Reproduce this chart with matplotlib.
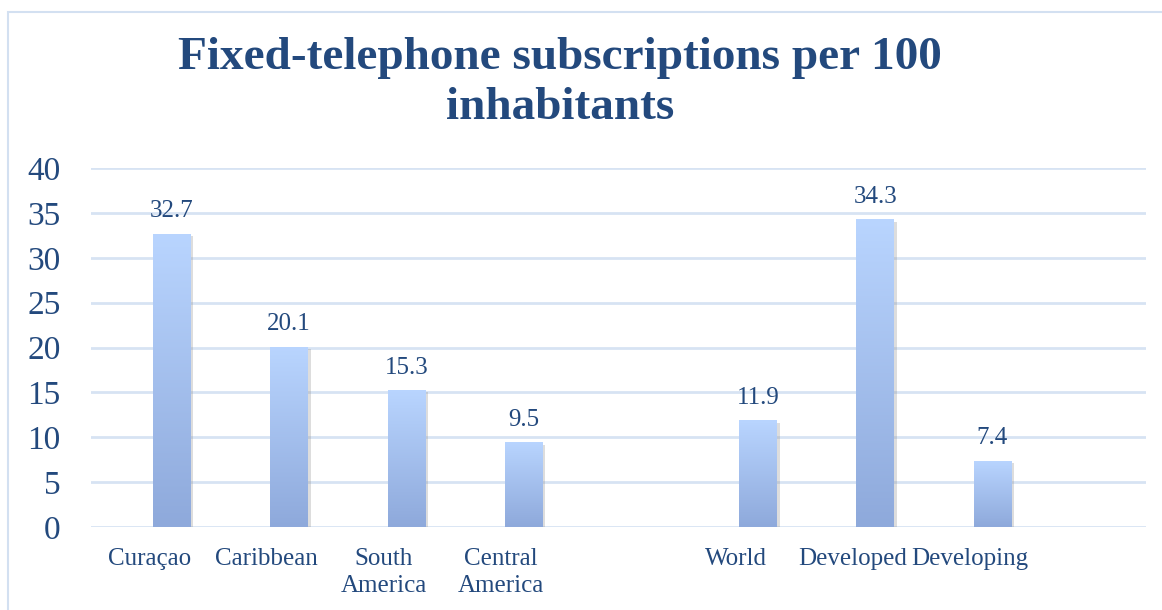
import numpy as np
import matplotlib.pyplot as plt
from matplotlib.colors import LinearSegmentedColormap
from matplotlib.patches import Rectangle
import matplotlib.patheffects as pe

# data (slots with empty names are gaps in the original chart)
categories = ['Curaçao', 'Caribbean', 'South\nAmerica', 'Central\nAmerica', '',
              'World', 'Developed', 'Developing', '']
values = [32.7, 20.1, 15.3, 9.5, None, 11.9, 34.3, 7.4, None]
yticks = [0, 5, 10, 15, 20, 25, 30, 35, 40]

txt_col = '#23497d'
grid_col = '#d7e3f3'
font = 'Liberation Serif'

fig = plt.figure(figsize=(11.62, 6.10), dpi=100)
# light frame around the chart area
fig.patches.append(Rectangle((8 / 1162, -0.05), 1.2, 1 - 12 / 610 + 0.05,
                             transform=fig.transFigure, fill=False,
                             edgecolor='#d3e0f1', linewidth=1.5))

ax = fig.add_axes([91 / 1162, 1 - 527 / 610, (1146 - 91) / 1162, (527 - 168) / 610])

cmap = LinearSegmentedColormap.from_list('bar', ['#8ea9db', '#b9d5ff'])
grad = np.linspace(0, 1, 256).reshape(-1, 1)

x = np.arange(len(categories))
off = 0.19
w = 0.32
for i, v in zip(x, values):
    if v is None:
        continue
    b = ax.bar(i + off, v, width=w, color='#a4bfe9', zorder=2,
               path_effects=[pe.SimplePatchShadow(offset=(2, -2), shadow_rgbFace='#8f8f8f', alpha=0.3),
                             pe.Normal()])[0]
    im = ax.imshow(grad, extent=(i + off - w / 2, i + off + w / 2, 0, v), origin='lower',
                   cmap=cmap, aspect='auto', zorder=3)
    im.set_clip_path(b)
    ax.annotate(f'{v:.1f}', (i + off, v), xytext=(0, 8), textcoords='offset points',
                ha='center', va='bottom', fontsize=18, color=txt_col, family=font)

ax.set_xlim(-0.5, len(categories) - 0.5)
ax.set_ylim(0, 40)
ax.set_xticks(x)
ax.set_xticklabels(categories, fontsize=18, color=txt_col, family=font, linespacing=1.3)
ax.set_yticks(yticks)
ax.set_yticklabels([str(t) for t in yticks], fontsize=24, color=txt_col, family=font)
ax.tick_params(axis='x', length=0, pad=15)
ax.tick_params(axis='y', length=0, pad=22)
ax.grid(axis='y', color=grid_col, linewidth=2, zorder=0)
ax.set_axisbelow(True)
for s in ax.spines.values():
    s.set_visible(False)
ax.set_facecolor('none')

fig.text(560 / 1162, 1 - 83 / 610, 'Fixed-telephone subscriptions per 100\ninhabitants',
         ha='center', va='center', fontsize=34, fontweight='bold', color=txt_col,
         family=font, linespacing=1.25)

fig.savefig('out.png', dpi=100)
